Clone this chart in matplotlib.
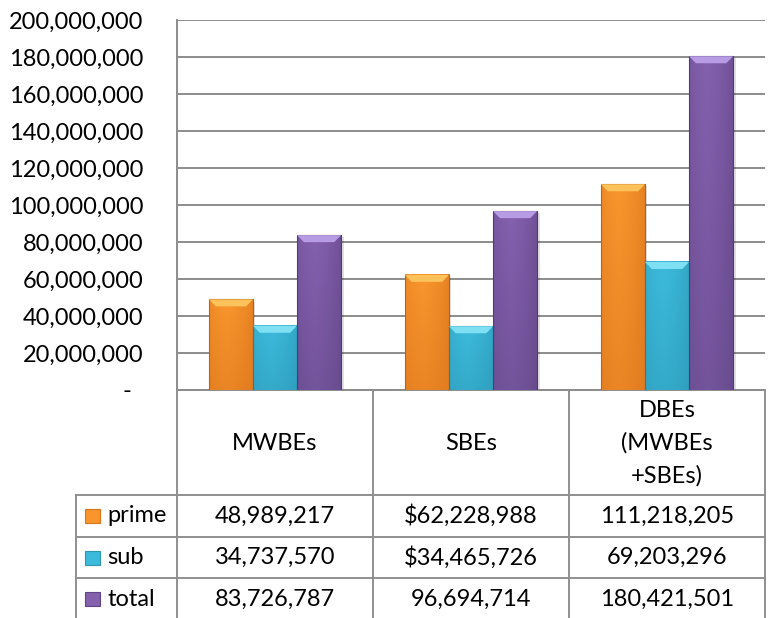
import numpy as np
import matplotlib.pyplot as plt
from matplotlib.ticker import FuncFormatter
from matplotlib.patches import Polygon

plt.rcParams['font.family'] = ['Lato', 'DejaVu Sans']

# data
categories = ['MWBEs', 'SBEs', 'DBEs\n(MWBEs\n+SBEs)']
series = ['prime', 'sub', 'total']
prime = [48989217, 62228988, 111218205]
sub = [34737570, 34465726, 69203296]
total = [83726787, 96694714, 180421501]
cell_text = [
    ['48,989,217', '$62,228,988', '111,218,205'],
    ['34,737,570', '$34,465,726', '69,203,296'],
    ['83,726,787', '96,694,714', '180,421,501'],
]
y_ticks = np.arange(0, 200000001, 20000000)

# colours: (top cap, main, dark)
colors = {
    'prime': ('#fdc25a', '#f8952c', '#d9731c'),
    'sub': ('#7fe0f4', '#3cbadb', '#2c97b5'),
    'total': ('#b79be4', '#8460ad', '#5f4585'),
}

W, H = 768, 618
fig = plt.figure(figsize=(W / 100, H / 100), dpi=100)

x_left, x_right, y_top, y_bot = 177, 765, 20, 390
ax = fig.add_axes([x_left / W, 1 - y_bot / H, (x_right - x_left) / W, (y_bot - y_top) / H])

bw = 0.225
offsets = [-bw, 0, bw]
vals = [prime, sub, total]

def hex2rgb(h):
    h = h.lstrip('#')
    return np.array([int(h[i:i + 2], 16) / 255 for i in (0, 2, 4)])

for s, off, v in zip(series, offsets, vals):
    top_c, main_c, dark_c = [hex2rgb(c) for c in colors[s]]
    for i, val in enumerate(v):
        x0 = i + off - bw / 2
        x1 = i + off + bw / 2
        # soft shadow
        ax.bar(i + off + 0.012, val, bw, bottom=-1200000, color='k', alpha=0.12, zorder=2, lw=0)
        # shaded body
        nx, ny = 40, 60
        gx = np.linspace(0, 1, nx)
        hshade = np.clip(1 - 0.55 * np.abs(gx - 0.4) ** 1.5 * 2.2, 0, 1)
        gy = np.linspace(0, 1, ny)[:, None]
        img = np.zeros((ny, nx, 3))
        for k in range(3):
            base = dark_c[k] + (main_c[k] - dark_c[k]) * (0.55 + 0.45 * gy)
            img[:, :, k] = dark_c[k] + (base - dark_c[k]) * hshade[None, :]
        ax.imshow(img, extent=(x0, x1, 0, val), origin='lower', aspect='auto',
                  interpolation='bilinear', zorder=3)
        ax.plot([x0, x0, x1, x1], [0, val, val, 0], color=dark_c * 0.85, lw=0.8, zorder=4)
        # bevel on the top
        cap = 3800000
        d = 0.035
        ax.add_patch(Polygon([(x0, val), (x1, val), (x1 - d, val - cap), (x0 + d, val - cap)],
                             closed=True, facecolor=top_c, edgecolor='none', zorder=4))

ax.set_xlim(-0.5, 2.5)
ax.set_ylim(0, 200000000)
ax.set_yticks(y_ticks)
ax.yaxis.set_major_formatter(FuncFormatter(lambda v, p: '-  ' if v == 0 else f'{int(v):,}'))
ax.tick_params(axis='y', length=0, pad=24, labelsize=17)
ax.set_xticks([])
ax.grid(axis='y', color='#8c8c8c', lw=1.4, zorder=0)
ax.set_axisbelow(True)
for side in ['top', 'right']:
    ax.spines[side].set_visible(False)
for side in ['left', 'bottom']:
    ax.spines[side].set_color('#8c8c8c')
    ax.spines[side].set_linewidth(1.4)

# data table under the chart, in pixel coordinates
tab = fig.add_axes([0, 0, 1, 1], facecolor='none')
tab.set_xlim(0, W)
tab.set_ylim(H, 0)
tab.axis('off')

col_w = (x_right - x_left) / 3
col_edges = [x_left + col_w * j for j in range(4)]
leg_left = 76
row_edges = [390, 495, 537, 578, 620]
lc = '#8f8f8f'

for j in range(4):
    tab.plot([col_edges[j], col_edges[j]], [row_edges[0], row_edges[-1]], color=lc, lw=1.4)
tab.plot([leg_left, leg_left], [row_edges[1], row_edges[-1]], color=lc, lw=1.4)
for r in row_edges[1:]:
    tab.plot([leg_left, x_right], [r, r], color=lc, lw=1.4)

for j, cat in enumerate(categories):
    cx = (col_edges[j] + col_edges[j + 1]) / 2
    tab.text(cx, (row_edges[0] + row_edges[1]) / 2 + 1, cat, ha='center', va='center',
             fontsize=17, linespacing=1.65)

for i, s in enumerate(series):
    cy = (row_edges[i + 1] + row_edges[i + 2]) / 2
    top_c, main_c, dark_c = colors[s]
    tab.add_patch(plt.Rectangle((85, cy - 7), 15, 14, facecolor=main_c, edgecolor=dark_c, lw=0.8))
    tab.text(107, cy, s, ha='left', va='center', fontsize=17)
    for j in range(3):
        cx = (col_edges[j] + col_edges[j + 1]) / 2
        tab.text(cx, cy, cell_text[i][j], ha='center', va='center', fontsize=17)

fig.savefig('out.png', dpi=100)
